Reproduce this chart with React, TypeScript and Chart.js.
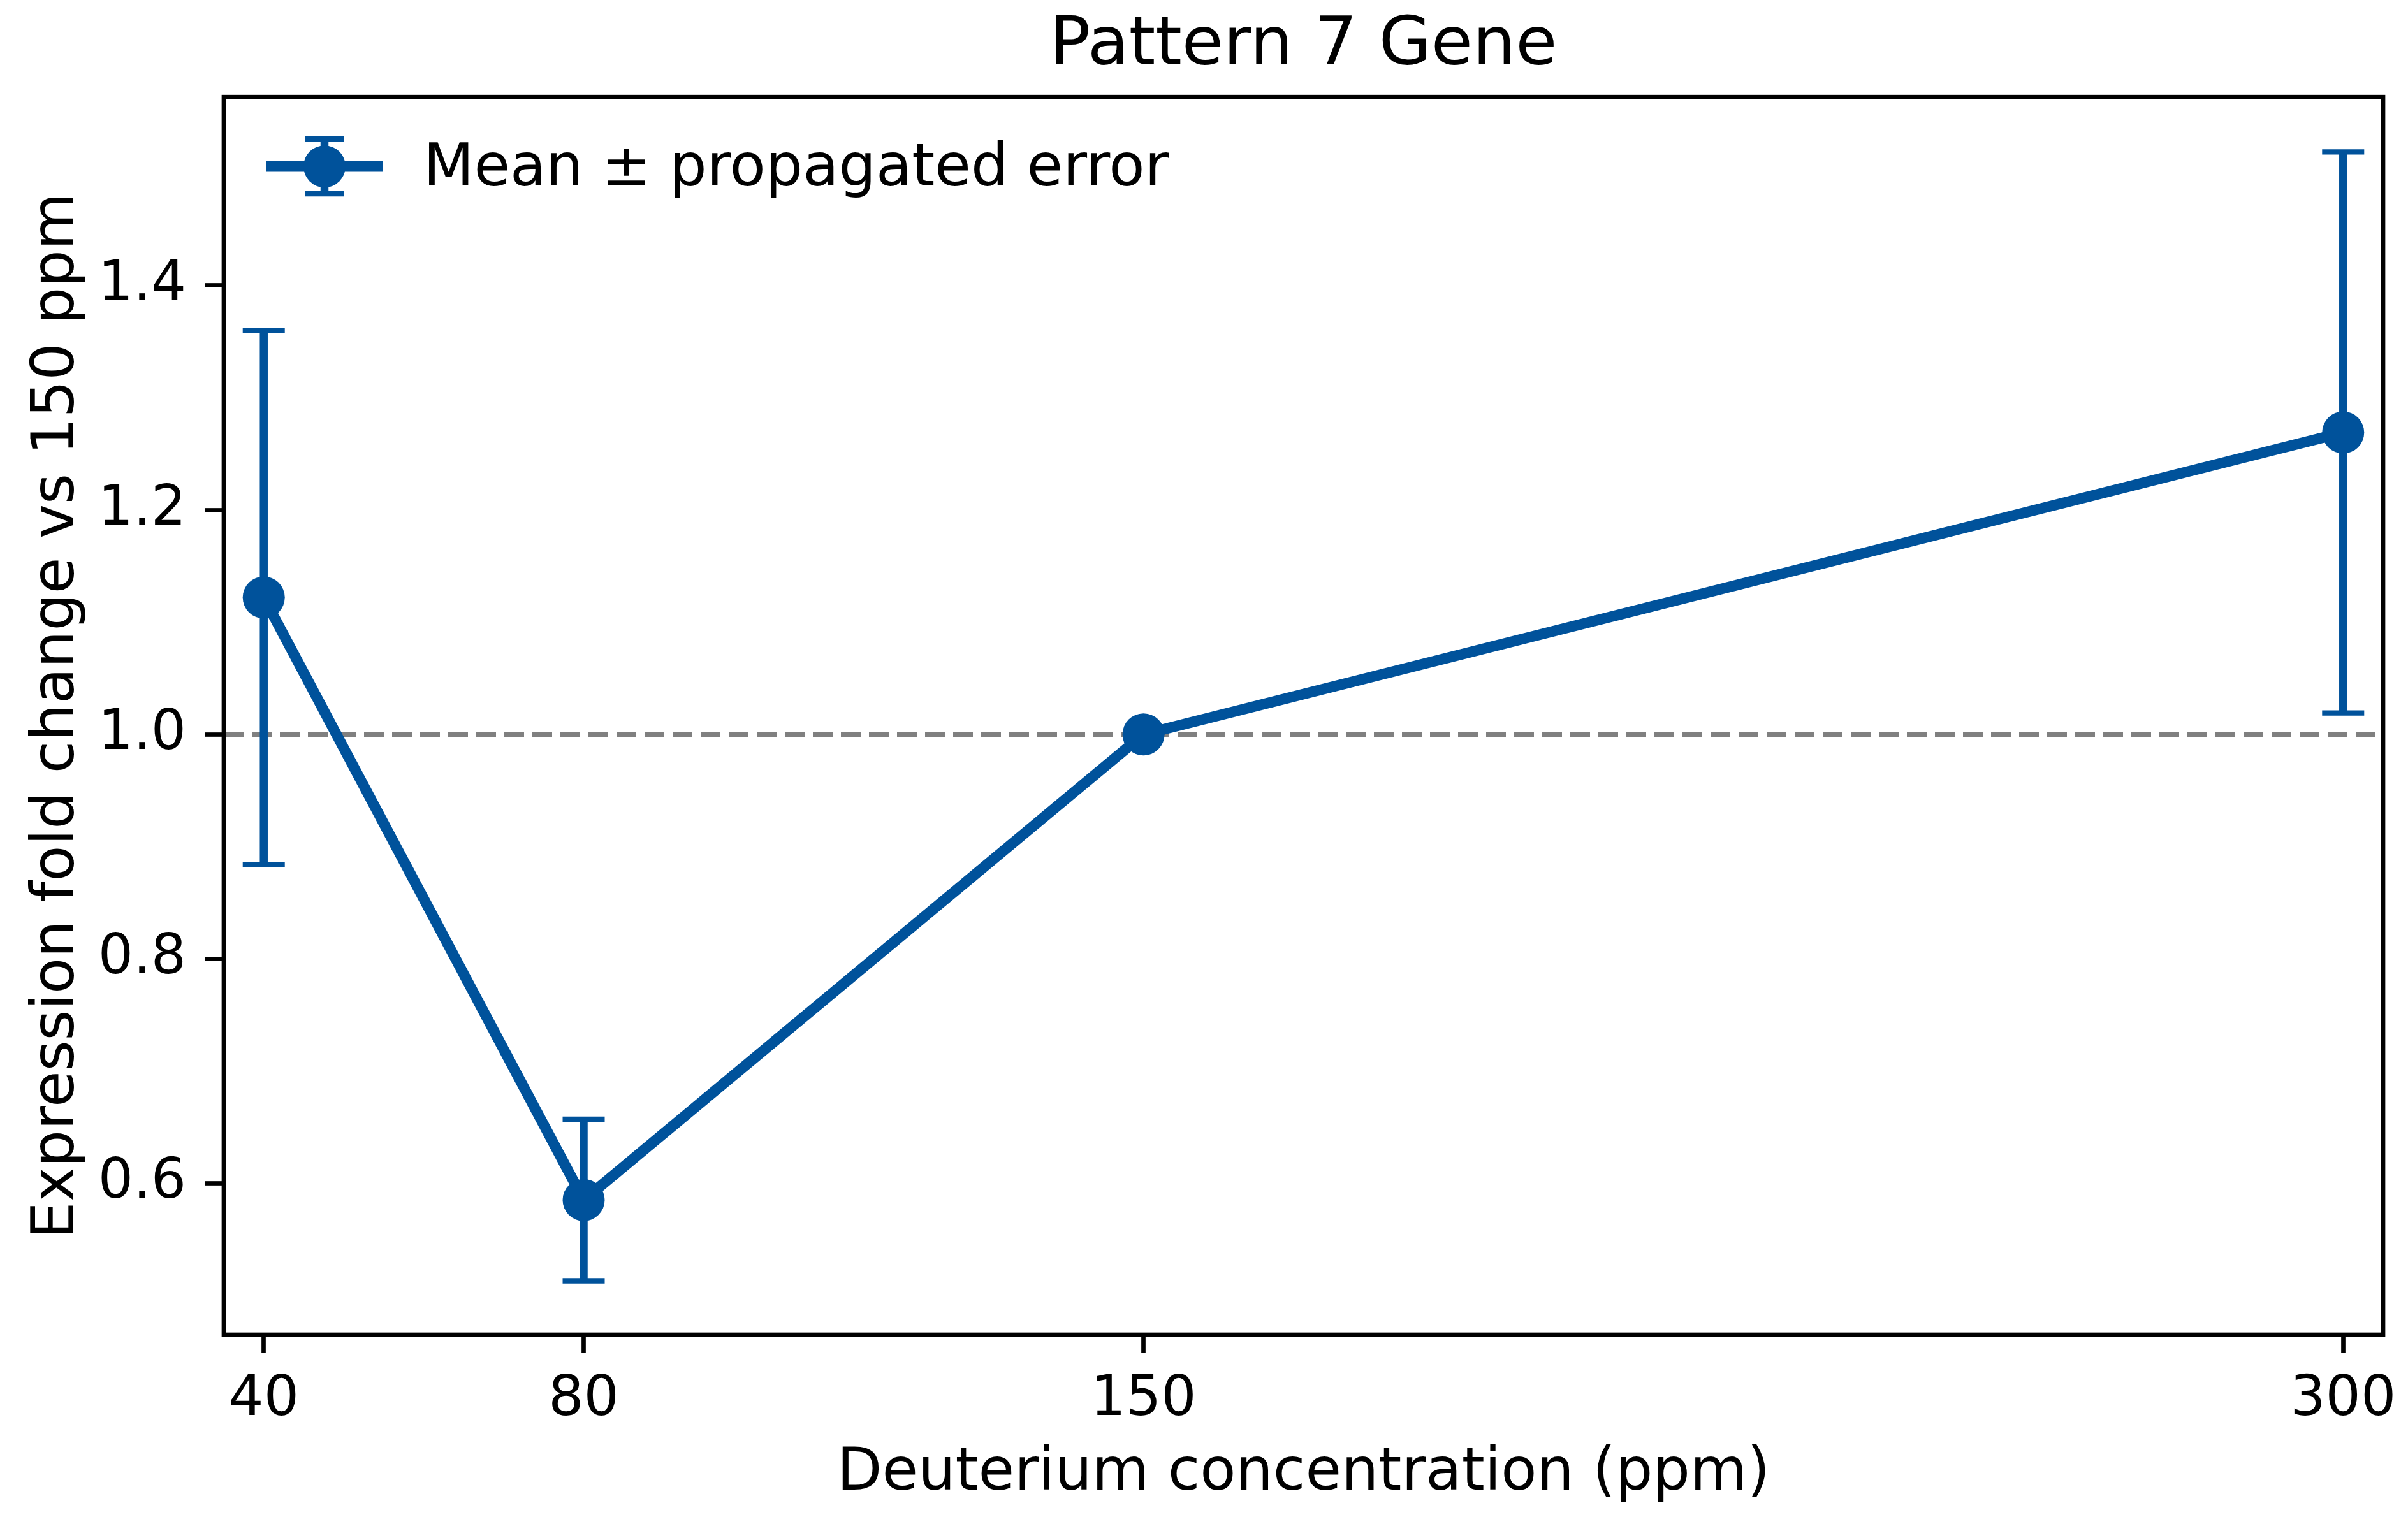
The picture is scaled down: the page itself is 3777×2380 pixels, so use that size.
import { useEffect, useRef } from 'react';
import { Chart, registerables } from 'chart.js';
Chart.register(...registerables);

// deuterium concentration (ppm) and fold change vs the 150 ppm reference
const concentrations = [40, 80, 150, 300];
const meanFold = [1.122, 0.585, 1.0, 1.269];
const propagatedError = [0.238, 0.072, 0, 0.25];

const xTicks = [40, 80, 150, 300];
const yTicks = [0.6, 0.8, 1.0, 1.2, 1.4];

// dashed reference line at fold change = 1
const referenceX = [35, 305];
const referenceY = [1.0, 1.0];

const BLUE = '#00529b';
const FONT = 'DejaVu Sans';

const errorBars = {
  id: 'errorBars',
  beforeDatasetDraw(chart: any, args: any) {
    if (args.index !== 1) return;
    const { ctx, scales: { x, y } } = chart;
    ctx.save();
    ctx.strokeStyle = BLUE;
    concentrations.forEach((c, i) => {
      if (!propagatedError[i]) return;
      const px = x.getPixelForValue(c);
      const top = y.getPixelForValue(meanFold[i] + propagatedError[i]);
      const bot = y.getPixelForValue(meanFold[i] - propagatedError[i]);
      ctx.lineWidth = 12.5;
      ctx.beginPath();
      ctx.moveTo(px, top);
      ctx.lineTo(px, bot);
      ctx.stroke();
      ctx.lineWidth = 8.3;
      [top, bot].forEach((py) => {
        ctx.beginPath();
        ctx.moveTo(px - 33, py);
        ctx.lineTo(px + 33, py);
        ctx.stroke();
      });
    });
    ctx.restore();
  },
};

const frameAndLegend = {
  id: 'frameAndLegend',
  afterDatasetsDraw(chart: any) {
    const { ctx, chartArea: a } = chart;
    ctx.save();
    // axes box
    ctx.strokeStyle = '#000';
    ctx.lineWidth = 6.7;
    ctx.strokeRect(a.left, a.top, a.right - a.left, a.bottom - a.top);

    // legend handle: line + marker + error bar
    const cx = a.left + 158;
    const cy = a.top + 109;
    ctx.strokeStyle = BLUE;
    ctx.fillStyle = BLUE;
    ctx.lineWidth = 16.7;
    ctx.beginPath();
    ctx.moveTo(a.left + 67, cy);
    ctx.lineTo(a.left + 249, cy);
    ctx.stroke();
    ctx.lineWidth = 12.5;
    ctx.beginPath();
    ctx.moveTo(cx, cy - 43);
    ctx.lineTo(cx, cy + 43);
    ctx.stroke();
    ctx.lineWidth = 8.3;
    [cy - 43, cy + 43].forEach((py) => {
      ctx.beginPath();
      ctx.moveTo(cx - 30, py);
      ctx.lineTo(cx + 30, py);
      ctx.stroke();
    });
    ctx.beginPath();
    ctx.arc(cx, cy, 33, 0, Math.PI * 2);
    ctx.fill();

    ctx.fillStyle = '#000';
    ctx.font = `92px "${FONT}"`;
    ctx.textAlign = 'left';
    ctx.textBaseline = 'middle';
    ctx.fillText(chart.data.datasets[1].label, a.left + 313, a.top + 115);
    ctx.restore();
  },
};

export default function App() {
  const canvasRef = useRef<HTMLCanvasElement>(null);

  useEffect(() => {
    const tickGrid = {
      drawOnChartArea: false,
      drawTicks: true,
      tickLength: 29,
      tickWidth: 6.7,
      tickColor: '#000',
    };

    const chart = new Chart(canvasRef.current!, {
      type: 'line',
      data: {
        datasets: [
          {
            label: 'reference',
            data: referenceX.map((x, i) => ({ x, y: referenceY[i] })),
            borderColor: '#808080',
            borderWidth: 8.3,
            borderDash: [31, 13],
            pointRadius: 0,
            order: 2,
          },
          {
            label: 'Mean ± propagated error',
            data: concentrations.map((x, i) => ({ x, y: meanFold[i] })),
            borderColor: BLUE,
            backgroundColor: BLUE,
            borderWidth: 16.7,
            pointRadius: 33,
            pointBorderWidth: 0,
            pointBackgroundColor: BLUE,
            tension: 0,
            order: 1,
          },
        ],
      },
      options: {
        animation: false,
        responsive: false,
        devicePixelRatio: 1,
        layout: { padding: { left: 0, right: 39, top: 0, bottom: 0 } },
        plugins: {
          legend: { display: false },
          tooltip: { enabled: false },
          title: {
            display: true,
            fullSize: false,
            text: 'Pattern 7 Gene',
            color: '#000',
            font: { family: FONT, size: 106, weight: 'normal' },
            padding: { top: 10, bottom: 15 },
          },
        },
        scales: {
          x: {
            type: 'linear',
            min: 35,
            max: 305,
            afterBuildTicks: (s: any) => { s.ticks = xTicks.map((v) => ({ value: v })); },
            afterFit: (s: any) => { s.height = 286; s.paddingLeft = 0; s.paddingRight = 0; },
            ticks: {
              color: '#000',
              padding: 22,
              maxRotation: 0,
              font: { family: FONT, size: 87 },
              callback: (v: any) => String(v),
            },
            grid: tickGrid,
            border: { display: false },
            title: {
              display: true,
              text: 'Deuterium concentration (ppm)',
              color: '#000',
              font: { family: FONT, size: 92 },
              padding: { top: 0, bottom: 12 },
            },
          },
          y: {
            type: 'linear',
            min: 0.465,
            max: 1.568,
            afterBuildTicks: (s: any) => { s.ticks = yTicks.map((v) => ({ value: v })); },
            afterFit: (s: any) => { s.width = 351; s.paddingTop = 0; s.paddingBottom = 0; },
            ticks: {
              color: '#000',
              padding: 30,
              font: { family: FONT, size: 87 },
              callback: (v: any) => Number(v).toFixed(1),
            },
            grid: tickGrid,
            border: { display: false },
            title: {
              display: true,
              text: 'Expression fold change vs 150 ppm',
              color: '#000',
              font: { family: FONT, size: 92 },
              padding: { top: 36, bottom: 0 },
            },
          },
        },
      },
      plugins: [errorBars, frameAndLegend],
    });

    return () => { chart.destroy(); };
  }, []);

  return (
    <div style={{ position: 'absolute', left: 0, top: 0, width: 3777, height: 2380, background: '#fff' }}>
      <canvas ref={canvasRef} width={3777} height={2380} style={{ display: 'block' }} />
    </div>
  );
}
